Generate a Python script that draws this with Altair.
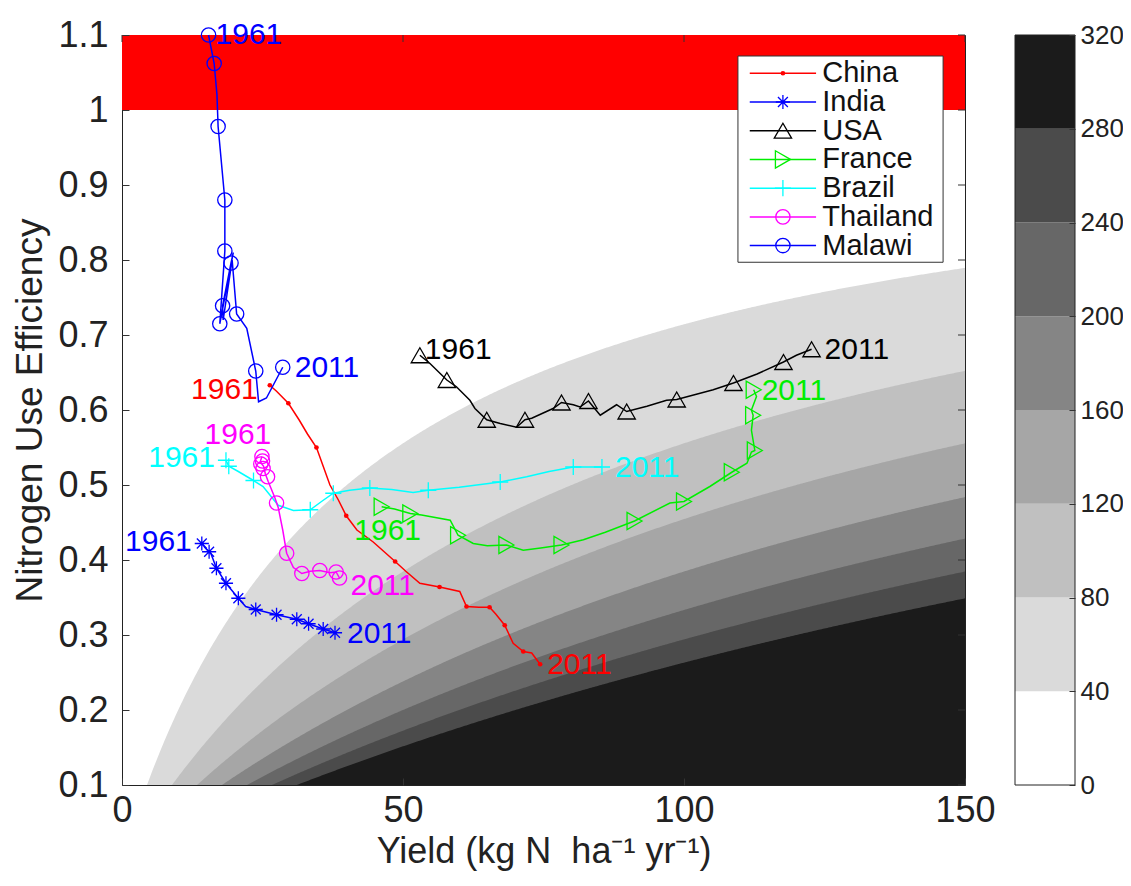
import altair as alt
import pandas as pd

# ---------------- data ----------------
COUNTRIES = ["China", "India", "USA", "France", "Brazil", "Thailand", "Malawi"]
COLORS = ["#ff0000", "#0000ff", "#000000", "#00ee00", "#00ffff", "#ff00ff", "#0000ff"]

# line vertices (Yield, NUE)
china_x = [26.3, 27.5, 29.6, 31.5, 33.0, 34.6, 35.8, 37.0, 38.5, 39.9, 41.8, 44.7, 46.5, 48.6, 50.5, 53.0,
           56.5, 60.1, 61.3, 63.5, 65.4, 66.5, 68.1, 69.6, 71.4, 72.9, 74.4]
china_y = [0.633, 0.625, 0.609, 0.587, 0.568, 0.550, 0.525, 0.500, 0.480, 0.459, 0.440, 0.424, 0.412, 0.398,
           0.385, 0.369, 0.364, 0.358, 0.338, 0.337, 0.337, 0.328, 0.313, 0.289, 0.278, 0.276, 0.261]
india_x = [14.2, 15.2, 15.8, 16.8, 18.5, 20.7, 22.0, 23.8, 27.5, 31.1, 33.2, 35.8, 37.9]
india_y = [0.422, 0.413, 0.409, 0.389, 0.369, 0.349, 0.338, 0.334, 0.327, 0.321, 0.315, 0.308, 0.303]
usa_x = [53.0, 54.8, 57.8, 59.5, 61.9, 62.8, 64.9, 67.3, 70.2, 71.7, 72.9, 76.7, 78.2, 80.3, 81.5, 83.0,
         85.1, 88.0, 89.8, 93.4, 96.9, 98.7, 101.7, 105.2, 108.8, 113.0, 117.7, 120.0, 122.7]
usa_y = [0.673, 0.662, 0.640, 0.631, 0.613, 0.602, 0.587, 0.582, 0.577, 0.587, 0.589, 0.602, 0.610, 0.607,
         0.604, 0.612, 0.593, 0.607, 0.598, 0.605, 0.613, 0.614, 0.620, 0.627, 0.636, 0.648, 0.664, 0.673, 0.681]
france_x = [46.2, 48.5, 51.3, 53.3, 58.4, 59.8, 62.5, 65.0, 68.4, 71.4, 74.5, 78.2, 82.1, 86.0, 91.2, 97.5,
            100.0, 104.6, 108.5, 111.2, 112.0, 112.6, 112.0, 112.3, 112.0, 112.9, 112.4]
france_y = [0.471, 0.468, 0.462, 0.460, 0.453, 0.433, 0.422, 0.419, 0.420, 0.413, 0.416, 0.420, 0.427, 0.437,
            0.452, 0.476, 0.478, 0.498, 0.517, 0.529, 0.544, 0.546, 0.573, 0.593, 0.600, 0.618, 0.627]
brazil_x = [18.5, 19.0, 20.7, 23.4, 25.1, 27.8, 30.5, 33.5, 35.5, 37.6, 40.5, 44.1, 48.0, 51.8, 54.5, 60.0,
            67.3, 72.0, 76.0, 80.3, 85.4]
brazil_y = [0.533, 0.525, 0.518, 0.506, 0.498, 0.473, 0.466, 0.467, 0.478, 0.489, 0.493, 0.496, 0.494, 0.490,
            0.493, 0.497, 0.504, 0.511, 0.518, 0.524, 0.524]
thailand_x = [24.9, 24.6, 25.2, 25.5, 26.0, 27.2, 27.8, 28.6, 29.3, 30.5, 32.0, 33.5, 35.2, 37.0, 38.1, 38.7]
thailand_y = [0.538, 0.531, 0.525, 0.515, 0.505, 0.483, 0.470, 0.440, 0.409, 0.390, 0.382, 0.385, 0.386,
              0.383, 0.384, 0.376]
malawi_x = [15.4, 16.4, 16.9, 17.1, 18.3, 18.3, 17.4, 19.8, 19.4, 17.9, 18.0, 19.6, 20.4, 22.2, 23.8, 24.3,
            25.7, 28.6]
malawi_y = [1.100, 1.062, 1.020, 0.978, 0.880, 0.812, 0.715, 0.810, 0.796, 0.739, 0.720, 0.800, 0.728, 0.709,
            0.652, 0.611, 0.616, 0.657]

# marker positions (every 5th year)
china_mx = [26.3, 29.6, 34.6, 39.9, 48.6, 56.5, 61.3, 65.4, 68.1, 71.4, 74.4]
china_my = [0.633, 0.609, 0.550, 0.459, 0.398, 0.364, 0.338, 0.337, 0.313, 0.278, 0.261]
india_mx = [14.2, 15.5, 16.8, 18.5, 20.7, 23.8, 27.5, 31.1, 33.2, 35.8, 37.9]
india_my = [0.422, 0.411, 0.389, 0.369, 0.349, 0.334, 0.327, 0.321, 0.315, 0.308, 0.303]
usa_mx = [53.0, 57.8, 64.9, 71.7, 78.2, 83.0, 89.8, 98.7, 108.8, 117.7, 122.7]
usa_my = [0.673, 0.640, 0.587, 0.587, 0.610, 0.612, 0.598, 0.614, 0.636, 0.664, 0.681]
france_mx = [46.2, 51.3, 59.8, 68.4, 78.2, 91.2, 100.0, 108.5, 112.6, 112.3, 112.4]
france_my = [0.471, 0.462, 0.433, 0.420, 0.420, 0.452, 0.478, 0.517, 0.546, 0.593, 0.627]
brazil_mx = [18.5, 19.0, 23.4, 33.5, 37.6, 44.1, 54.5, 67.3, 80.3, 85.4]
brazil_my = [0.533, 0.525, 0.506, 0.467, 0.489, 0.496, 0.493, 0.504, 0.524, 0.524]
thailand_mx = [24.9, 25.0, 24.7, 25.1, 25.9, 27.5, 29.3, 32.0, 35.2, 38.1, 38.7]
thailand_my = [0.538, 0.532, 0.528, 0.522, 0.511, 0.476, 0.409, 0.382, 0.386, 0.384, 0.376]
malawi_mx = [15.4, 16.4, 17.1, 18.3, 18.3, 19.4, 17.9, 17.4, 20.4, 23.8, 28.6]
malawi_my = [1.100, 1.062, 0.978, 0.880, 0.812, 0.796, 0.739, 0.715, 0.728, 0.652, 0.657]

YEAR_FIRST = "1961"
YEAR_LAST = "2011"

# surplus contour levels (kg N/ha/yr) and their greys
LEVELS = [0, 40, 80, 120, 160, 200, 240, 280]
GREYS = ["#ffffff", "#dadada", "#c0c0c0", "#a6a6a6", "#858585", "#676767", "#4b4b4b", "#1b1b1b"]
CBAR_TICKS = [0, 40, 80, 120, 160, 200, 240, 280, 320]
X_TICKS = [0, 50, 100, 150]
Y_TICKS = [0.1, 0.2, 0.3, 0.4, 0.5, 0.6, 0.7, 0.8, 0.9, 1.0, 1.1]

# ---------------- tables ----------------
LINES = {"China": (china_x, china_y), "India": (india_x, india_y), "USA": (usa_x, usa_y),
         "France": (france_x, france_y), "Brazil": (brazil_x, brazil_y),
         "Thailand": (thailand_x, thailand_y), "Malawi": (malawi_x, malawi_y)}
MARKS = {"China": (china_mx, china_my), "India": (india_mx, india_my), "USA": (usa_mx, usa_my),
         "France": (france_mx, france_my), "Brazil": (brazil_mx, brazil_my),
         "Thailand": (thailand_mx, thailand_my), "Malawi": (malawi_mx, malawi_my)}

lines_df = pd.concat([pd.DataFrame({"country": c, "Yield": LINES[c][0], "NUE": LINES[c][1],
                                    "order": list(range(len(LINES[c][0])))}) for c in COUNTRIES])

# ---------------- styles ----------------
FONT = "Liberation Sans"
SHAPES = {"China": "circle",
          "India": "M-1,0L1,0M0,-1L0,1M-0.7,-0.7L0.7,0.7M-0.7,0.7L0.7,-0.7",
          "USA": "triangle-up", "France": "triangle-right",
          "Brazil": "M-1,0L1,0M0,-1L0,1",
          "Thailand": "circle", "Malawi": "circle"}
SIZES = {"China": 22, "India": 200, "USA": 300, "France": 300, "Brazil": 260, "Thailand": 205, "Malawi": 205}
CMAP = dict(zip(COUNTRIES, COLORS))
# label style: (country, which, align, dx, dy)
LABEL_STYLE = [("Malawi", "first", "left", 7, 0), ("Malawi", "last", "left", 12, 1),
               ("China", "first", "right", -12, 5), ("China", "last", "left", 7, 1),
               ("Thailand", "first", "center", -24, -22), ("Thailand", "last", "left", 11, 8),
               ("Brazil", "first", "right", -11, -2), ("Brazil", "last", "left", 13, 1),
               ("India", "first", "right", -10, -2), ("India", "last", "left", 12, 1),
               ("USA", "first", "left", 5, -5), ("USA", "last", "left", 13, 1),
               ("France", "first", "center", 6, 24), ("France", "last", "left", 8, 1)]

W, H = 843, 750
PAD_L, PAD_T, PAD_R, PAD_B = 114, 27, 158, 88
CB_X0, CB_X1 = 893, 953        # colour-bar position relative to the plot's left edge
TXT = "#222222"
TICK = 7

xscale = alt.Scale(domain=[0, 150], nice=False, zero=False)
yscale = alt.Scale(domain=[0.1, 1.1], nice=False, zero=False)
xaxis = alt.Axis(values=X_TICKS, title="Yield (kg N\u00a0 ha\u207b\u00b9 yr\u207b\u00b9)", grid=False,
                 ticks=True, tickSize=TICK, offset=-TICK, tickColor="#333", tickWidth=1, zindex=1,
                 domain=False, labelFontSize=36, titleFontSize=36, labelPadding=8, titlePadding=6,
                 titleFontWeight="normal", labelColor=TXT, titleColor=TXT, labelFlush=False)
yaxis = alt.Axis(values=Y_TICKS, title="Nitrogen Use Efficiency", grid=False,
                 ticks=True, tickSize=TICK, offset=-TICK, tickColor="#333", tickWidth=1, zindex=1,
                 domain=False, labelFontSize=36, titleFontSize=37, labelPadding=14, titlePadding=8,
                 titleFontWeight="normal", labelColor=TXT, titleColor=TXT, labelFlush=False,
                 labelExpr="format(datum.value, '.1~f')")
X = alt.X("Yield:Q", scale=xscale, axis=xaxis)
Y = alt.Y("NUE:Q", scale=yscale, axis=yaxis)

color = alt.Color("country:N", scale=alt.Scale(domain=COUNTRIES, range=COLORS), legend=None)

layers = []
# grey surplus bands: NUE = Y / (Y + S)
for lvl, grey in zip(LEVELS[1:], GREYS[1:]):
    band = alt.Chart(alt.sequence(0, 150.25, 0.25, as_="Yield")).transform_calculate(
        NUE=f"datum.Yield / (datum.Yield + {lvl})", base="0.1"
    ).mark_area(color=grey, clip=True).encode(x=X, y=Y, y2="base:Q")
    layers.append(band)

# red NUE > 1 region
red_df = pd.DataFrame({"Yield": [0], "Yield2": [150], "NUE": [1.0], "NUE2": [1.1]})
layers.append(alt.Chart(red_df).mark_rect(color="#ff0000").encode(x=X, x2="Yield2:Q", y=Y, y2="NUE2:Q"))

# mirrored inward ticks on the top and right edges
layers.append(alt.Chart(pd.DataFrame({"Yield": X_TICKS})).mark_rule(color="#333", strokeWidth=1).encode(
    x=X, y=alt.value(0), y2=alt.value(TICK)))
layers.append(alt.Chart(pd.DataFrame({"NUE": Y_TICKS})).mark_rule(color="#333", strokeWidth=1).encode(
    y=Y, x=alt.value(W - TICK), x2=alt.value(W)))

# lines
layers.append(alt.Chart(lines_df).mark_line(strokeWidth=1.5).encode(
    x=X, y=Y, color=color, detail="country:N", order="order:Q"))
# markers, one layer per country
for c in COUNTRIES:
    mdf = pd.DataFrame({"Yield": MARKS[c][0], "NUE": MARKS[c][1]})
    if c == "China":
        mk = alt.Chart(mdf).mark_circle(size=SIZES[c], opacity=1, color=CMAP[c])
    else:
        mk = alt.Chart(mdf).mark_point(shape=SHAPES[c], size=SIZES[c], filled=False, strokeWidth=1.3,
                                       opacity=1, color=CMAP[c])
    layers.append(mk.encode(x=X, y=Y))

# year labels
for c, which, align, dx, dy in LABEL_STYLE:
    xs, ys = LINES[c]
    k = 0 if which == "first" else -1
    ldf = pd.DataFrame({"Yield": [xs[k]], "NUE": [ys[k]],
                        "txt": [YEAR_FIRST if which == "first" else YEAR_LAST]})
    layers.append(alt.Chart(ldf).mark_text(align=align, baseline="middle", dx=dx, dy=dy, fontSize=30,
                                           font=FONT, color=CMAP[c]).encode(x=X, y=Y, text="txt:N"))

# legend box (in data units, top right corner)
box_df = pd.DataFrame({"Yield": [109.6], "Yield2": [146.1], "NUE": [0.797], "NUE2": [1.072]})
layers.append(alt.Chart(box_df).mark_rect(fill="white", stroke="#333", strokeWidth=1).encode(
    x=X, x2="Yield2:Q", y=Y, y2="NUE2:Q"))
for i, c in enumerate(COUNTRIES):
    leg = alt.Chart(pd.DataFrame({"country": [c]})).transform_calculate(
        NUE=f"1.049 - {i} * 0.0383", Yield="111.7", Yield2="123.5", Ym="117.6", Yt="124.6")
    layers.append(leg.mark_rule(strokeWidth=1.5, color=CMAP[c]).encode(x=X, x2="Yield2:Q", y=Y))
    xm = alt.X("Ym:Q", scale=xscale, axis=xaxis)
    if c == "China":
        layers.append(leg.mark_circle(size=SIZES[c], opacity=1, color=CMAP[c]).encode(x=xm, y=Y))
    else:
        layers.append(leg.mark_point(shape=SHAPES[c], size=SIZES[c], filled=False, strokeWidth=1.3,
                                     opacity=1, color=CMAP[c]).encode(x=xm, y=Y))
    layers.append(leg.mark_text(align="left", baseline="middle", fontSize=29, font=FONT, color="#111").encode(
        x=alt.X("Yt:Q", scale=xscale, axis=xaxis), y=Y, text="country:N"))

# colour-bar outline (drawn beside the plot)
layers.append(alt.Chart(pd.DataFrame({"k": [0]})).mark_rect(fill=None, stroke="#222", strokeWidth=1).encode(
    x=alt.value(CB_X0), x2=alt.value(CB_X1), y=alt.value(0), y2=alt.value(H)))

main = alt.layer(*layers)

# colour bar bands with their own y scale / right-hand axis
cb_df = pd.DataFrame({"lo": LEVELS, "hi": LEVELS[1:] + [320], "g": GREYS})
cbar = alt.Chart(cb_df).mark_rect().encode(
    x=alt.value(CB_X0), x2=alt.value(CB_X1),
    y=alt.Y("lo:Q", scale=alt.Scale(domain=[0, 320], nice=False),
            axis=alt.Axis(orient="right", offset=CB_X1 - W - 6, values=CBAR_TICKS, title=None, grid=False,
                          ticks=True, tickSize=6, tickColor="#333", zindex=1,
                          domain=False, labelFontSize=26, labelPadding=5, labelColor=TXT,
                          labelFlush=False)),
    y2="hi:Q",
    fill=alt.Fill("g:N", scale=None),
)

chart = alt.layer(cbar, main).resolve_scale(y="independent").resolve_axis(y="independent").properties(
    width=W, height=H,
    autosize=alt.AutoSizeParams(type="none"),
    padding={"left": PAD_L, "top": PAD_T, "right": PAD_R, "bottom": PAD_B},
).configure(font=FONT).configure_view(stroke="#222", strokeWidth=1)

chart.save("out.html", embed_options={"renderer": "svg", "actions": False})
